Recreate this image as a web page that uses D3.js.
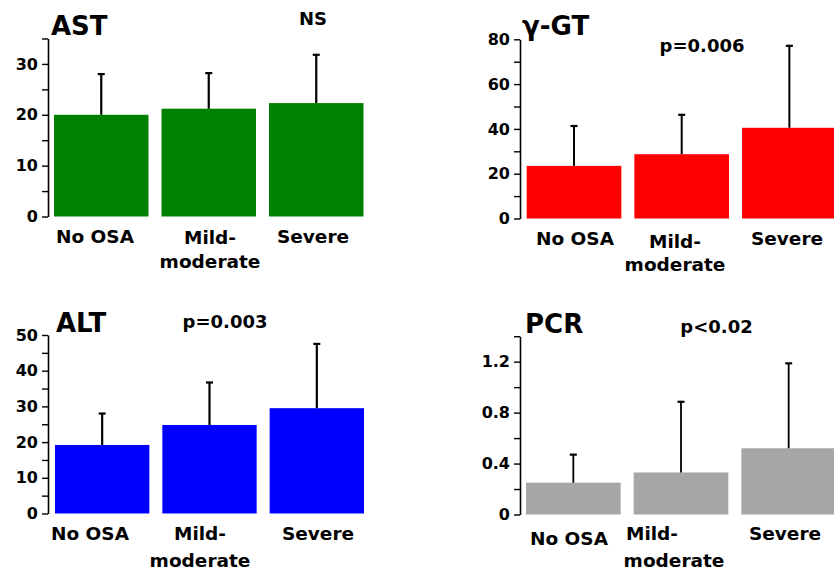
<!DOCTYPE html>
<html>
<head>
<meta charset="utf-8">
<script src="https://cdn.jsdelivr.net/npm/d3@7"></script>
<style>
  html, body { margin: 0; padding: 0; background: #fff; }
  svg { display: block; }
  text { font-family: "DejaVu Sans", Verdana, sans-serif; font-weight: bold; fill: #000; }
</style>
</head>
<body>
<svg id="chart" width="834" height="577"></svg>
<script>
// Groups compared in every panel (two-line label for the middle group)
const categories = ["No OSA", "Mild-moderate", "Severe"];
const categoryLines = [["No OSA"], ["Mild-", "moderate"], ["Severe"]];

// Mean values and upper SD per group
const astMean = [20.0, 21.2, 22.3];
const astSD   = [8.0, 7.0, 9.5];
const ggtMean = [23.5, 28.7, 40.5];
const ggtSD   = [17.8, 17.6, 36.6];
const altMean = [19.2, 24.8, 29.5];
const altSD   = [8.8, 11.9, 18.0];
const pcrMean = [0.25, 0.33, 0.52];
const pcrSD   = [0.22, 0.555, 0.667];

// Axis tick values (labelled and unlabelled)
const astTicks = [0, 10, 20, 30];
const astMinor = [5, 15, 25, 35];
const ggtTicks = [0, 20, 40, 60, 80];
const ggtMinor = [10, 30, 50, 70];
const altTicks = [0, 10, 20, 30, 40, 50];
const altMinor = [5, 15, 25, 35, 45];
const pcrTicks = [0, 0.4, 0.8, 1.2];
const pcrMinor = [0.2, 0.6, 1.0, 1.4];

// Panel titles and significance notes
const titles = ["AST", "\u03b3-GT", "ALT", "PCR"];
const pNotes = ["NS", "p=0.006", "p=0.003", "p<0.02"];

const svg = d3.select("#chart");

const panels = [
  { title: titles[0], note: pNotes[0], mean: astMean, sd: astSD, ticks: astTicks, minor: astMinor,
    yMax: 35, color: "#008000", fmt: d => d,
    axisX: 48, y0: 216.5, yTop: 38.5, xRange: [54, 363.5], errW: 2.2,
    titlePos: [51, 35], notePos: [313, 25],
    labels: [[95, 243], [210, 244, 268], [313, 243]] },
  { title: titles[1], note: pNotes[1], mean: ggtMean, sd: ggtSD, ticks: ggtTicks, minor: ggtMinor,
    yMax: 80, color: "#ff0000", fmt: d => d,
    axisX: 520, y0: 218.5, yTop: 39.3, xRange: [526.7, 836.7], errW: 2,
    titlePos: [522, 35], notePos: [702, 51.5],
    labels: [[575, 245], [675, 248, 271], [787, 245]] },
  { title: titles[2], note: pNotes[2], mean: altMean, sd: altSD, ticks: altTicks, minor: altMinor,
    yMax: 50, color: "#0000ff", fmt: d => d,
    axisX: 48, y0: 513.5, yTop: 335, xRange: [55, 364], errW: 2.2,
    titlePos: [56, 331.5], notePos: [225, 328],
    labels: [[90, 540], [200, 540, 567], [318, 540]] },
  { title: titles[3], note: pNotes[3], mean: pcrMean, sd: pcrSD, ticks: pcrTicks, minor: pcrMinor,
    yMax: 1.4, color: "#a6a6a6", fmt: d => d === 0 ? "0" : d3.format(".1f")(d),
    axisX: 520, y0: 514.5, yTop: 336.2, xRange: [526, 836], errW: 1.8,
    titlePos: [525, 333], notePos: [716.5, 333],
    labels: [[569, 545], [652, 540, 567, 674], [785, 540]] }
];

panels.forEach(p => {
  const g = svg.append("g");
  const y = d3.scaleLinear().domain([0, p.yMax]).range([p.y0, p.yTop]);
  const x = d3.scaleBand().domain(categories).range(p.xRange).paddingInner(0.121).paddingOuter(0);

  // Bars
  g.selectAll("rect.bar").data(p.mean).join("rect")
    .attr("class", "bar")
    .attr("x", (d, i) => x(categories[i]))
    .attr("width", x.bandwidth())
    .attr("y", d => y(d))
    .attr("height", d => y(0) - y(d))
    .attr("fill", p.color);

  // Upper error bars with small caps
  const err = g.selectAll("g.err").data(p.mean).join("g").attr("class", "err");
  err.append("line")
    .attr("x1", (d, i) => x(categories[i]) + x.bandwidth() / 2)
    .attr("x2", (d, i) => x(categories[i]) + x.bandwidth() / 2)
    .attr("y1", d => y(d))
    .attr("y2", (d, i) => y(d + p.sd[i]))
    .attr("stroke", "#000").attr("stroke-width", p.errW);
  err.append("line")
    .attr("x1", (d, i) => x(categories[i]) + x.bandwidth() / 2 - 3.5)
    .attr("x2", (d, i) => x(categories[i]) + x.bandwidth() / 2 + 3.5)
    .attr("y1", (d, i) => y(d + p.sd[i]))
    .attr("y2", (d, i) => y(d + p.sd[i]))
    .attr("stroke", "#000").attr("stroke-width", 2.2);

  // Y axis: labelled ticks plus unlabelled minor ticks
  const ax = g.append("g").attr("transform", `translate(${p.axisX},0)`)
    .call(d3.axisLeft(y).tickValues(p.ticks).tickFormat(p.fmt).tickSize(6).tickSizeOuter(0).tickPadding(4));
  ax.select(".domain").attr("stroke", "#000").attr("stroke-width", 1.6);
  ax.selectAll(".tick line").attr("stroke", "#000").attr("stroke-width", 1.4);
  ax.selectAll(".tick text")
    .style("font-family", '"DejaVu Sans", Verdana, sans-serif')
    .style("font-weight", "bold").style("font-size", "16px").attr("fill", "#000");
  const axm = g.append("g").attr("transform", `translate(${p.axisX},0)`)
    .call(d3.axisLeft(y).tickValues(p.minor).tickFormat("").tickSize(6).tickSizeOuter(0));
  axm.select(".domain").remove();
  axm.selectAll(".tick line").attr("stroke", "#000").attr("stroke-width", 1.4);

  // Title and significance note
  g.append("text").attr("x", p.titlePos[0]).attr("y", p.titlePos[1])
    .style("font-size", "26px").text(p.title);
  g.append("text").attr("x", p.notePos[0]).attr("y", p.notePos[1])
    .attr("text-anchor", "middle").style("font-size", "18px").text(p.note);

  // Category labels
  categoryLines.forEach((lines, i) => {
    const pos = p.labels[i];
    lines.forEach((line, j) => {
      const cx = (j === 1 && pos[3] !== undefined) ? pos[3] : pos[0];
      g.append("text").attr("x", cx).attr("y", pos[1 + j])
        .attr("text-anchor", "middle").style("font-size", "18.5px").text(line);
    });
  });
});
</script>
</body>
</html>
